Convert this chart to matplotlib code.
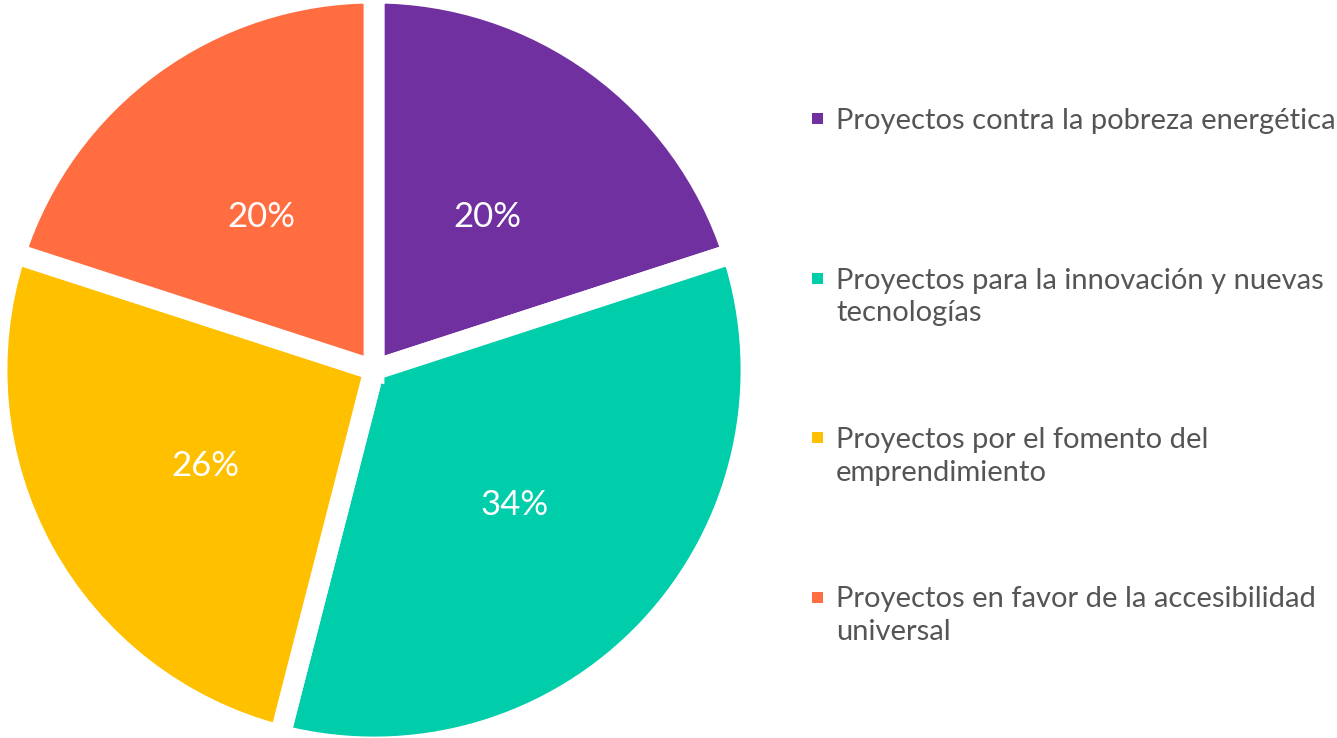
import matplotlib.pyplot as plt
from matplotlib.patches import Rectangle

# datos del gráfico
categorias = [
    'Proyectos contra la pobreza energética',
    'Proyectos para la innovación y nuevas\ntecnologías',
    'Proyectos por el fomento del\nemprendimiento',
    'Proyectos en favor de la accesibilidad\nuniversal',
]
porcentajes = [20, 34, 26, 20]
colores = ['#7030A0', '#00CDAA', '#FFC000', '#FF6D40']

W, H = 1337, 738
fig = plt.figure(figsize=(W / 100, H / 100), dpi=100)

# pie: centro (374, 370) px, radio 377 px
cx, cy, r = 374, 370, 377
ax = fig.add_axes([(cx - r) / W, (H - cy - r) / H, 2 * r / W, 2 * r / H])
wedges, texts, autotexts = ax.pie(
    porcentajes, colors=colores, startangle=90, counterclock=False,
    autopct='%d%%', pctdistance=0.51, radius=1,
    wedgeprops=dict(edgecolor='white', linewidth=15),
    textprops=dict(color='white', fontsize=25, family='Lato'))
for w in wedges:
    w.set_clip_on(False)
for t in autotexts:
    t.set_va('center_baseline')
ax.set_xlim(-1, 1)
ax.set_ylim(-1, 1)
ax.set_aspect('auto')
ax.axis('off')

# leyenda manual (cada línea por separado para controlar el interlineado)
y0 = 129
paso = 159.5
interlinea = 32.5
for i, (cat, col) in enumerate(zip(categorias, colores)):
    y = y0 + i * paso
    fig.patches.append(Rectangle((812 / W, 1 - (y - 5) / H), 11 / W, 11 / H,
                                 transform=fig.transFigure, facecolor=col,
                                 edgecolor='none'))
    for k, linea in enumerate(cat.split('\n')):
        fig.text(836 / W, 1 - (y + k * interlinea) / H, linea, fontsize=21,
                 family='Lato', color='#555555', va='baseline', ha='left')

fig.savefig('out.png', dpi=100)
